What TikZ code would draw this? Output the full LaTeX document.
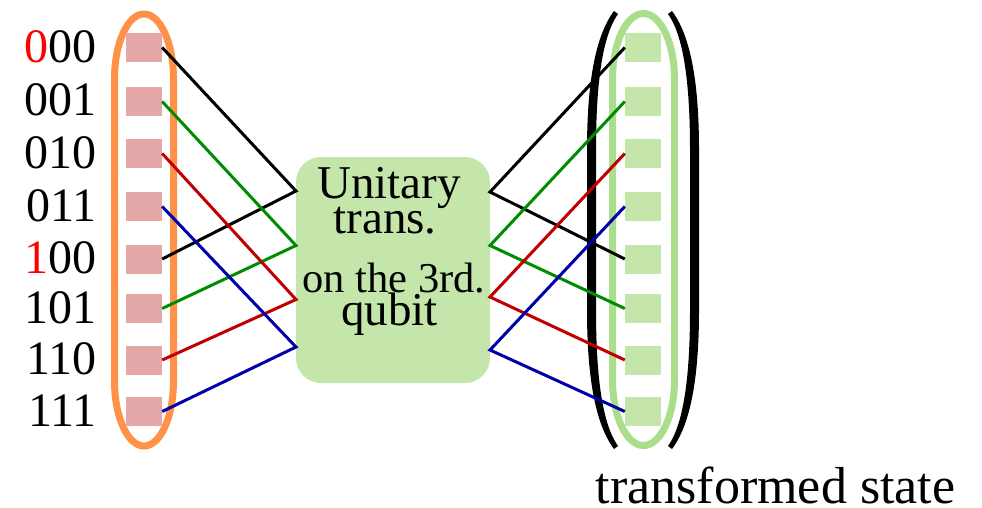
\documentclass[tikz,border=0pt]{standalone}
\usepackage{fontspec}
\setmainfont{Liberation Serif}
\definecolor{ringorange}{RGB}{255,146,72}
\definecolor{sqpink}{RGB}{228,168,168}
\definecolor{boxgreen}{RGB}{196,230,170}
\definecolor{ringgreen}{RGB}{170,222,140}
\definecolor{lgreen}{RGB}{0,140,0}
\definecolor{lred}{RGB}{192,0,0}
\definecolor{lblue}{RGB}{0,0,170}
\tikzset{
  sqleft/.style={fill=sqpink,minimum width=36pt,minimum height=29pt,inner sep=0pt},
  sqright/.style={fill=boxgreen,minimum width=36pt,minimum height=29pt,inner sep=0pt},
  lbl/.style={font=\fontsize{48}{48}\selectfont,inner sep=0pt,anchor=base east,text depth=0pt},
  boxtxt/.style={font=\fontsize{47}{47}\selectfont,inner sep=0pt,anchor=base,text depth=0pt},
  conn/.style={line width=3pt,line join=miter},
}
\begin{document}
\begin{tikzpicture}[x=1pt,y=-1pt]
\useasboundingbox (0,0) rectangle (982,507);
% rings
\draw[ringorange,line width=7pt] (144,14) .. controls (160.3,14) and (173.5,43) .. (173.5,79) -- (173.5,381) .. controls (173.5,417) and (160.3,446) .. (144,446) .. controls (127.7,446) and (114.5,417) .. (114.5,381) -- (114.5,79) .. controls (114.5,43) and (127.7,14) .. (144,14) -- cycle;
\draw[ringgreen,line width=7pt] (643.5,13.5) .. controls (660.6,13.5) and (674.5,43) .. (674.5,79) -- (674.5,380) .. controls (674.5,416) and (660.6,445.5) .. (643.5,445.5) .. controls (626.4,445.5) and (612.5,416) .. (612.5,380) -- (612.5,79) .. controls (612.5,43) and (626.4,13.5) .. (643.5,13.5) -- cycle;
% parentheses
\fill[black] (614,11) .. controls (596,35) and (587,80) .. (587,150) -- (587,310) .. controls (587,380) and (596,425) .. (614,449) -- (618,446) .. controls (603,425) and (596,380) .. (596,310) -- (596,150) .. controls (596,80) and (603,35) .. (618,14) -- cycle;
\fill[black] (672,11) .. controls (690,35) and (699,80) .. (699,150) -- (699,310) .. controls (699,380) and (690,425) .. (672,449) -- (668,446) .. controls (683,425) and (690,380) .. (690,310) -- (690,150) .. controls (690,80) and (683,35) .. (668,14) -- cycle;
% squares
\foreach \i/\y in {0/47.5,1/101.5,2/153.5,3/206.5,4/259,5/308.5,6/360,7/411.5}{
  \node[sqleft] (l\i) at (144,\y) {};
  \node[sqright] (r\i) at (643,\y) {};
}
% labels
\node[lbl] (t0) at (97,62) {\textcolor{red}{0}00};
\node[lbl] (t1) at (97,115.5) {001};
\node[lbl] (t2) at (97,168) {010};
\node[lbl] (t3) at (97,221) {011};
\node[lbl] (t4) at (97,273) {\textcolor{red}{1}00};
\node[lbl] (t5) at (97,323) {101};
\node[lbl] (t6) at (97,374) {110};
\node[lbl] (t7) at (97,426) {111};
% box
\node[fill=boxgreen,rounded corners=25pt,minimum width=194pt,minimum height=226pt,inner sep=0pt] (U) at (393,270) {};
\node[boxtxt] (u1) at (389,198) {Unitary};
\node[boxtxt,text height=24pt] (u2) at (385,233) {trans.};
\node[boxtxt,font=\fontsize{42.5}{42.5}\selectfont] (u3) at (394,292) {on the 3rd.};
\node[boxtxt,text height=24pt] (u4) at (389.5,325) {qubit};
% junctions
\coordinate (jl0) at (296,191);
\coordinate (jl1) at (296,245.5);
\coordinate (jl2) at (296,299.5);
\coordinate (jl3) at (296,347);
\coordinate (jr0) at (490,192);
\coordinate (jr1) at (490,245.5);
\coordinate (jr2) at (490,297);
\coordinate (jr3) at (490,350);
% connectors
\draw[conn,black] (l0.east) -- (jl0) -- (l4.east);
\draw[conn,lgreen] (l1.east) -- (jl1) -- (l5.east);
\draw[conn,lred] (l2.east) -- (jl2) -- (l6.east);
\draw[conn,lblue] (l3.east) -- (jl3) -- (l7.east);
\draw[conn,black] (r0.west) -- (jr0) -- (r4.west);
\draw[conn,lgreen] (r1.west) -- (jr1) -- (r5.west);
\draw[conn,lred] (r2.west) -- (jr2) -- (r6.west);
\draw[conn,lblue] (r3.west) -- (jr3) -- (r7.west);
% caption
\node[font=\fontsize{52}{52}\selectfont,inner sep=0pt,anchor=base,text depth=0pt] (cap) at (775.5,503) {transformed state};
\end{tikzpicture}
\end{document}
